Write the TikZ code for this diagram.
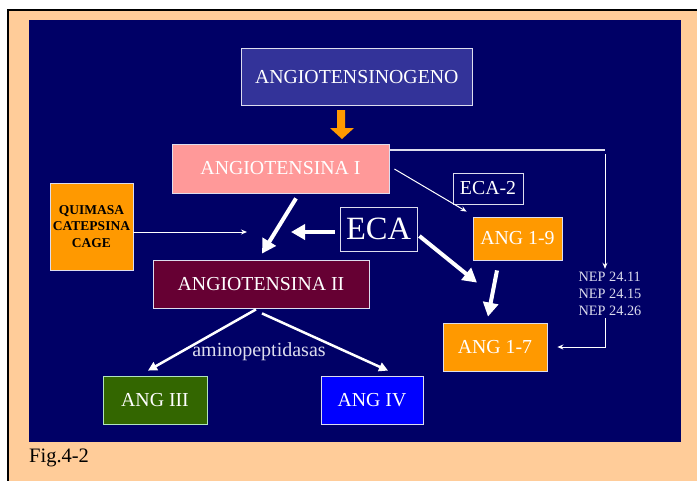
\documentclass[tikz,border=0pt]{standalone}
\usepackage{fontspec}
\setmainfont{Liberation Serif}
\usetikzlibrary{arrows.meta,calc}
\definecolor{navy}{HTML}{000066}
\definecolor{peach}{HTML}{FFCC99}
\definecolor{orng}{HTML}{FF9900}
\definecolor{pinkb}{HTML}{FF9999}
\definecolor{slateb}{HTML}{333399}
\definecolor{maroon}{HTML}{660033}
\definecolor{dgreen}{HTML}{336600}
\definecolor{bblue}{HTML}{0000FF}
\definecolor{edgec}{HTML}{DDDDEE}
\tikzset{
  box/.style={draw=edgec, line width=0.8pt, inner sep=0pt, text=white, font=\fontsize{19.8}{22}\selectfont},
  thinarr/.style={draw=white, line width=1pt, -{Stealth[length=6pt,width=5pt]}},
  medarr/.style={draw=white, line width=2.5pt, -{Triangle[length=9pt,width=9pt]}},
  thickarr/.style={draw=white, line width=4pt, -{Triangle[length=14pt,width=15pt]}},
}
\begin{document}
\begin{tikzpicture}[x=1pt,y=-1pt]
\useasboundingbox (0,0) rectangle (697,480);
\fill[white] (0,0) rectangle (697,480);
\draw[line width=2pt, fill=peach] (8,10) rectangle (700,484);
\fill[navy] (29,20) rectangle (681,442);
\node[anchor=base west, font=\fontsize{20.5}{24}\selectfont, inner sep=0pt] (fig) at (29,462) {Fig.4-2};

\node[box, fill=slateb, minimum width=230.5pt, minimum height=57.5pt] (ango) at (356.75,76.75) {ANGIOTENSINOGENO};
\node[box, fill=pinkb, minimum width=217pt, minimum height=49pt] (ang1) at (280.5,168.5) {ANGIOTENSINA I};
\node[box, minimum width=70pt, minimum height=31pt] (eca2) at (488,188.5) {ECA-2};
\node[box, minimum width=77pt, minimum height=44pt, font=\fontsize{32.5}{36}\selectfont] (eca) at (378.5,229) {ECA};
\node[box, fill=orng, minimum width=89pt, minimum height=43pt] (ang19) at (517.5,238.5) {ANG 1-9};
\node[box, fill=orng, minimum width=104pt, minimum height=48pt] (ang17) at (495,347) {ANG 1-7};
\node[box, fill=orng, minimum width=83pt, minimum height=87pt, text=black, align=center, font=\fontsize{13.5}{16.5}\selectfont\bfseries] (quim) at (91.5,226.5) {QUIMASA\\CATEPSINA\\CAGE};
\node[box, fill=maroon, minimum width=216pt, minimum height=48pt] (ang2) at (261,284) {ANGIOTENSINA II};
\node[box, draw=edgec!80!green, fill=dgreen, minimum width=104pt, minimum height=48pt] (ang3) at (155,400) {ANG III};
\node[box, fill=bblue, minimum width=102pt, minimum height=48pt] (ang4) at (372,400) {ANG IV};
\node[text=edgec, align=left, font=\fontsize{14.3}{17}\selectfont, inner sep=0pt, minimum height=49pt] (nep) at (610,293.5) {NEP 24.11\\NEP 24.15\\NEP 24.26};
\node[text=edgec, font=\fontsize{20}{24}\selectfont, inner sep=0pt] (amino) at (259,352) {aminopeptidasas};

% orange arrow
\fill[orng] (337,110) -- (345,110) -- (345,128) -- (354,128) -- (342,139) -- (330,128) -- (337,128) -- cycle;

% ANG I to NEP
\coordinate (c1) at (605,149.5);
\draw[edgec, line width=2pt] (ang1.east |- c1) -- (c1);
\draw[thinarr] ($(c1)+(0,4.5)$) -- (nep.north -| c1);
\draw[thinarr, shorten >=10pt] (nep.south -| c1) |- (ang17.east);

% ECA-2 thin arrow
\draw[thinarr] ($(ang1.east)+(5,0.5)$) -- ($(ang19.north west)+(-6,-5)$);

% thick arrows
\draw[thickarr] ($(ang1.south)+(15.5,5)$) -- ($(ang2.north)+(1,-6)$);
\coordinate (ecatip) at (291,232);
\draw[thickarr] ($(eca.west)+(-5,3)$) -- (ecatip);
\draw[thickarr] ($(eca.east)+(2,7)$) -- ($(ang17.north)+(-18,-40)$);
\draw[thickarr] ($(ang19.south)+(-20.5,10)$) -- ($(ang17.north)+(-7,-6)$);

% quimasa arrow
\coordinate (qtip) at (247,232);
\draw[thinarr] ($(quim.east)+(0,5.5)$) -- (qtip);

% aminopeptidasas arrows
\draw[medarr] ($(ang2.south)+(-5,1)$) -- ($(ang3.north)+(-7,-5)$);
\draw[medarr] ($(ang2.south)+(1,5)$) -- ($(ang4.north)+(16,-5)$);
\end{tikzpicture}
\end{document}
